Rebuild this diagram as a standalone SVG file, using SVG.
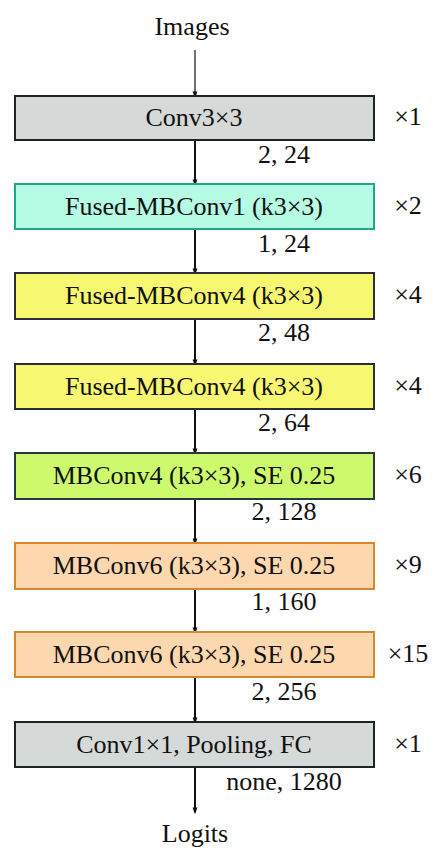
<svg xmlns="http://www.w3.org/2000/svg" width="435" height="852" viewBox="0 0 435 852">
<style>
text{font-family:"Liberation Serif","Times New Roman",serif;fill:#111;font-size:26px;text-anchor:middle;}
.box{stroke-width:2;}
.gray{fill:#d5d9d8;stroke:#1e2426;}
.cyan{fill:#b6fbe4;stroke:#22a786;}
.yel{fill:#f8f772;stroke:#2a3036;}
.grn{fill:#cdf96c;stroke:#2b3a40;}
.org{fill:#fdd7ad;stroke:#d5892f;}
.c{stroke:#111;stroke-width:2;fill:none;marker-end:url(#ah);}
</style>
<defs>
<marker id="ah" markerWidth="7" markerHeight="10" refX="6.5" refY="4" orient="auto" markerUnits="userSpaceOnUse" viewBox="0 0 10 8">
<path d="M0,0.5 L10,4 L0,7.5 Z" fill="#111"/>
</marker>
</defs>
<text x="192" y="35">Images</text>
<text x="195" y="842">Logits</text>
<g id="connectors">
<line x1="195" y1="50" x2="195" y2="96" stroke="#111" stroke-width="1.2" marker-end="url(#ah)"/>
<line class="c" x1="195" y1="141" x2="195" y2="184"/>
<line class="c" x1="195" y1="229" x2="195" y2="273"/>
<line class="c" x1="195" y1="319" x2="195" y2="364"/>
<line class="c" x1="195" y1="409" x2="195" y2="453"/>
<line class="c" x1="195" y1="499" x2="195" y2="543"/>
<line class="c" x1="195" y1="589" x2="195" y2="632"/>
<line class="c" x1="195" y1="677" x2="195" y2="722"/>
<line class="c" x1="195" y1="767" x2="195" y2="812"/>
</g>
<g id="n1"><rect class="box gray" x="15" y="96" width="359" height="44"/><text x="194" y="126">Conv3×3</text><text x="284" y="163">2, 24</text><text x="408" y="125">×1</text></g>
<g id="n2"><rect class="box cyan" x="15" y="184" width="359" height="45"/><text x="194" y="215">Fused-MBConv1 (k3×3)</text><text x="284" y="252">1, 24</text><text x="408" y="214">×2</text></g>
<g id="n3"><rect class="box yel" x="15" y="273" width="359" height="46"/><text x="194" y="304">Fused-MBConv4 (k3×3)</text><text x="284" y="341">2, 48</text><text x="408" y="303">×4</text></g>
<g id="n4"><rect class="box yel" x="15" y="364" width="359" height="45"/><text x="194" y="395">Fused-MBConv4 (k3×3)</text><text x="284" y="431">2, 64</text><text x="408" y="394">×4</text></g>
<g id="n5"><rect class="box grn" x="15" y="453" width="359" height="46"/><text x="194" y="484">MBConv4 (k3×3), SE 0.25</text><text x="284" y="520">2, 128</text><text x="408" y="483">×6</text></g>
<g id="n6"><rect class="box org" x="15" y="543" width="359" height="46"/><text x="194" y="574">MBConv6 (k3×3), SE 0.25</text><text x="284" y="610">1, 160</text><text x="408" y="573">×9</text></g>
<g id="n7"><rect class="box org" x="15" y="632" width="359" height="45"/><text x="194" y="663">MBConv6 (k3×3), SE 0.25</text><text x="284" y="700">2, 256</text><text x="408" y="662">×15</text></g>
<g id="n8"><rect class="box gray" x="15" y="722" width="359" height="45"/><text x="194" y="753">Conv1×1, Pooling, FC</text><text x="284" y="790">none, 1280</text><text x="408" y="752">×1</text></g>
</svg>
